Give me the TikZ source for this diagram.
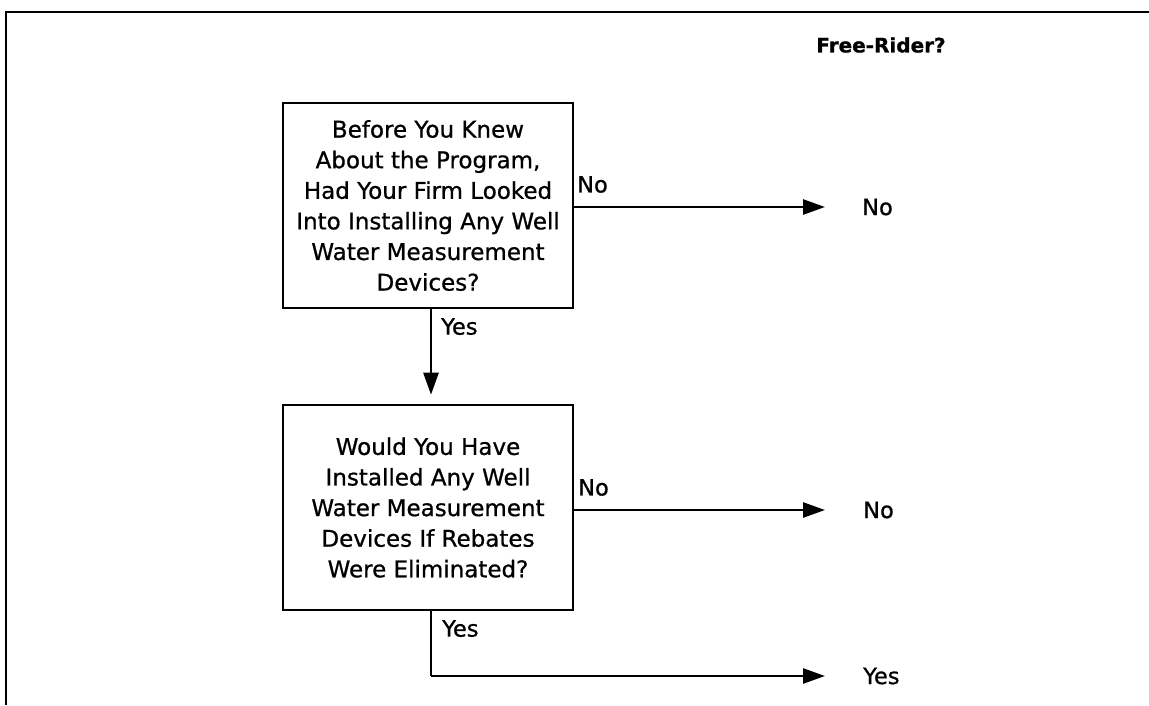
\documentclass[tikz,border=0pt]{standalone}
\usepackage{fontspec}
\setmainfont{DejaVu Sans}[FakeBold=0.8]
\usetikzlibrary{arrows.meta}
\begin{document}
\begin{tikzpicture}[x=1pt,y=-1pt,
  every node/.style={inner sep=0pt},
  question/.style={draw, line width=2.6pt, minimum width=290pt, minimum height=205pt,
    align=center, font=\fontsize{23}{30.6}\selectfont},
  label text/.style={font=\fontsize{22.5}{26}\selectfont},
  flow/.style={line width=2.6pt, -{Triangle[length=22pt,width=15pt]}},
  plain/.style={line width=2.6pt}
]
  \useasboundingbox (0,0) rectangle (1149,705);
  % frame: rule along the top and down the left side
  \draw[line width=2.8pt] (1149,12) -- (6,12) -- (6,705);

  \node[font=\bfseries\fontsize{20}{24}\selectfont] (title) at (881,45) {Free-Rider?};

  \node[question] (q1) at (428,205.5) {Before You Knew\\About the Program,\\Had Your Firm Looked\\Into Installing Any Well\\Water Measurement\\Devices?};
  \node[question] (q2) at (428,507.5) {Would You Have\\Installed Any Well\\Water Measurement\\Devices If Rebates\\Were Eliminated?};

  % outcomes
  \node[label text, anchor=west] (r1) at (862,207) {No};
  \node[label text, anchor=west] (r2) at (863,510) {No};
  \node[label text, anchor=west] (r3) at (863,676) {Yes};

  % branch labels
  \node[label text, anchor=south west] (n1) at (577,193) {No};
  \node[label text, anchor=south west] (n2) at (578,496) {No};
  \node[label text, anchor=north west] (y1) at (441,318) {Yes};
  \node[label text, anchor=north west] (y2) at (442,620) {Yes};

  \coordinate (bend) at (431,676);

  \draw[flow, shorten >=37pt] (q1.east |- r1) -- (r1.west);
  \draw[flow, shorten >=38pt] (q2.east |- r2) -- (r2.west);
  \draw[flow, shorten >=9pt] (q1.south -| bend) -- (q2.north -| bend);
  \draw[plain] (q2.south -| bend) -- (bend);
  \draw[flow, shorten >=38pt] (bend) -- (r3.west);
\end{tikzpicture}
\end{document}
